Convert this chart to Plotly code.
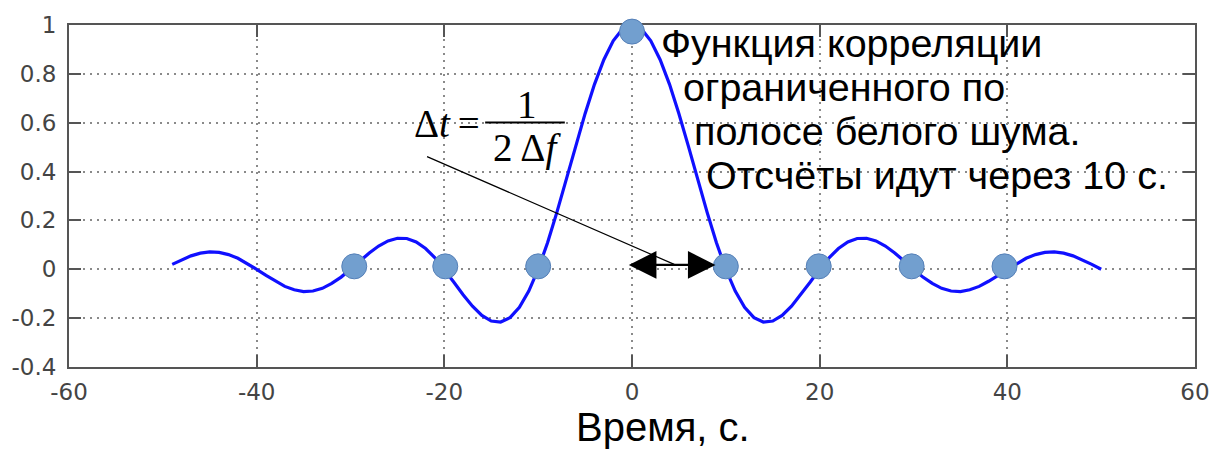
import plotly.graph_objects as go

# Correlation function of band-limited white noise, sampled every 1 s
t = list(range(-49, 51))
r = [
    0.020, 0.039, 0.055, 0.066, 0.071, 0.069, 0.060, 0.045, 0.024,            # -49..-41
    0.000, -0.025, -0.049, -0.070, -0.084, -0.091, -0.089, -0.078, -0.058, -0.032,  # -40..-31
    0.000, 0.034, 0.067, 0.095, 0.116, 0.127, 0.126, 0.112, 0.085, 0.047,      # -30..-21
    0.000, -0.052, -0.104, -0.151, -0.189, -0.212, -0.216, -0.198, -0.156, -0.089,  # -20..-11
    0.000, 0.109, 0.234, 0.368, 0.505, 0.637, 0.757, 0.858, 0.935, 0.984,      # -10..-1
    1.000,                                                                     # 0
    0.984, 0.935, 0.858, 0.757, 0.637, 0.505, 0.368, 0.234, 0.109, 0.000,      # 1..10
    -0.089, -0.156, -0.198, -0.216, -0.212, -0.189, -0.151, -0.104, -0.052, 0.000,  # 11..20
    0.047, 0.085, 0.112, 0.126, 0.127, 0.116, 0.095, 0.067, 0.034, 0.000,      # 21..30
    -0.032, -0.058, -0.078, -0.089, -0.091, -0.084, -0.070, -0.049, -0.025, 0.000,  # 31..40
    0.024, 0.045, 0.060, 0.069, 0.071, 0.066, 0.055, 0.039, 0.020, 0.000,      # 41..50
]

# Sample points (every 10 s)
sample_t = [-29.6, -19.9, -10.0, 0.0, 10.0, 19.9, 29.8, 39.7]
sample_r = [0.012, 0.012, 0.012, 0.973, 0.012, 0.012, 0.012, 0.012]

x_ticks = [-60, -40, -20, 0, 20, 40, 60]
x_tick_text = ["-60", "-40", "-20", "0", "20", "40", "60"]
y_ticks = [-0.4, -0.2, 0, 0.2, 0.4, 0.6, 0.8, 1]
y_tick_text = ["-0.4", "-0.2", "0", "0.2", "0.4", "0.6", "0.8", "1"]

note_lines = [
    "Функция корреляции",
    "ограниченного по",
    "полосе белого шума.",
    "Отсчёты идут через 10 с.",
]
note_x = [2.92, 5.25, 6.42, 7.69]
note_y = [0.927, 0.746, 0.565, 0.387]

fig = go.Figure()

fig.add_trace(go.Scatter(
    x=t, y=r, mode="lines",
    line=dict(color="#1010ff", width=3.2),
    hoverinfo="skip", showlegend=False, cliponaxis=False,
))
fig.add_trace(go.Scatter(
    x=sample_t, y=sample_r, mode="markers",
    marker=dict(size=25, color="#729fcf", line=dict(color="#5580b8", width=1)),
    showlegend=False, cliponaxis=False,
))

axis_common = dict(
    showline=True, linecolor="#555555", linewidth=2, mirror="ticks",
    ticks="inside", ticklen=12, tickwidth=2, tickcolor="#555555",
    showgrid=True, gridcolor="#8a8a8a", gridwidth=1.5, griddash="2px,5px",
    zeroline=False, layer="below traces",
    tickfont=dict(family="DejaVu Sans", size=23, color="#444444"),
)

fig.update_xaxes(range=[-60, 60], tickvals=x_ticks, ticktext=x_tick_text,
                 ticklabelstandoff=3, **axis_common)
fig.update_yaxes(range=[-0.4, 1], tickvals=y_ticks, ticktext=y_tick_text,
                 ticklabelstandoff=6, **axis_common)

annotations = []
for txt, xx, yy in zip(note_lines, note_x, note_y):
    annotations.append(dict(
        x=xx, y=yy, xref="x", yref="y", text=txt, showarrow=False,
        xanchor="left", yanchor="middle",
        font=dict(family="Liberation Sans", size=39.5, color="black"),
    ))

# Formula  Δt = 1 / (2 Δf)
serif = dict(family="Liberation Serif", size=39, color="black")
annotations += [
    dict(x=-16.0, y=0.597, xref="x", yref="y", text="Δ<i>t</i>\u2009=", showarrow=False,
         xanchor="right", yanchor="middle", font=serif),
    dict(x=-11.2, y=0.675, xref="x", yref="y", text="1", showarrow=False,
         xanchor="center", yanchor="middle", font=serif),
    dict(x=-11.2, y=0.495, xref="x", yref="y", text="2\u2009Δ<i>f</i>", showarrow=False,
         xanchor="center", yanchor="middle", font=serif),
]

# Pointer from the formula to the sampling interval
annotations.append(dict(
    x=4.5, y=0.02, ax=-22.0, ay=0.464, xref="x", yref="y", axref="x", ayref="y",
    text="", showarrow=True, arrowhead=0, arrowwidth=1.2, arrowcolor="black",
))
# Double arrow spanning one sampling interval
annotations.append(dict(
    x=8.9, y=0.018, ax=-0.5, ay=0.018, xref="x", yref="y", axref="x", ayref="y",
    text="", showarrow=True, arrowhead=2, arrowside="end+start",
    arrowsize=2.3, arrowwidth=2.4, arrowcolor="black",
))

# Axis title
annotations.append(dict(
    x=3.3, y=-0.175, xref="x", yref="paper", text="Время, с.", showarrow=False,
    xanchor="center", yanchor="middle", borderpad=0,
    font=dict(family="Liberation Sans", size=40, color="black"),
))

fig.update_layout(
    width=1222, height=452,
    margin=dict(l=67, r=24, t=20, b=85),
    paper_bgcolor="white", plot_bgcolor="white",
    annotations=annotations,
    shapes=[dict(type="line", xref="x", yref="y", x0=-15.65, x1=-7.16, y0=0.601, y1=0.601,
                 line=dict(color="black", width=2))],
)

fig.write_html("out.html")
